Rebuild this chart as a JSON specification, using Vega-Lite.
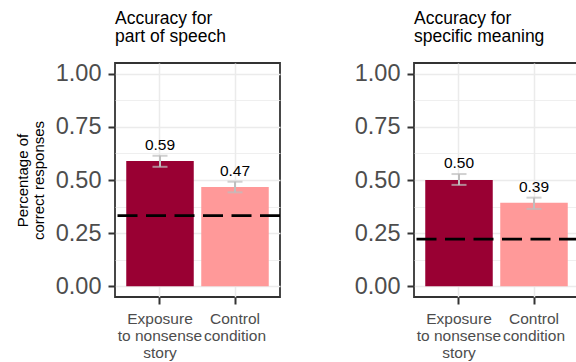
{
  "$schema": "https://vega.github.io/schema/vega-lite/v6.json",
  "background": "white",
  "padding": {"left": 14, "top": 8, "right": 5, "bottom": 5},
  "spacing": 70,
  "datasets": {
    "bars": [
      {"panel": "pos", "condition": "Exposure to nonsense story", "value": 0.589, "lower": 0.562, "upper": 0.614},
      {"panel": "pos", "condition": "Control condition", "value": 0.467, "lower": 0.442, "upper": 0.492},
      {"panel": "meaning", "condition": "Exposure to nonsense story", "value": 0.5, "lower": 0.477, "upper": 0.528},
      {"panel": "meaning", "condition": "Control condition", "value": 0.393, "lower": 0.364, "upper": 0.417}
    ],
    "chance": [
      {"panel": "pos", "chance": 0.333},
      {"panel": "meaning", "chance": 0.222}
    ]
  },
  "hconcat": [
    {
      "width": 165,
      "height": 234,
      "title": {"text": ["Accuracy for", "part of speech"]},
      "resolve": {"axis": {"y": "independent"}},
      "layer": [
        {
          "data": {"name": "bars"},
          "transform": [{"filter": "datum.panel == 'pos'"}],
          "mark": {"type": "bar"},
          "encoding": {
            "x": {"field": "condition", "type": "nominal", "sort": ["Exposure to nonsense story", "Control condition"],
                  "scale": {"paddingInner": 0.1, "paddingOuter": 0.15},
                  "axis": {"title": null, "labelExpr": "datum.label == 'Exposure to nonsense story' ? ['Exposure', 'to nonsense', 'story'] : ['Control', 'condition']"}},
            "y": {"field": "value", "type": "quantitative", "scale": {"domain": [-0.05, 1.05], "nice": false, "zero": false},
                  "axis": {"values": [0, 0.25, 0.5, 0.75, 1], "format": ".2f", "title": ["Percentage of", "correct responses"]}},
            "color": {"field": "condition", "type": "nominal", "scale": {"domain": ["Exposure to nonsense story", "Control condition"], "range": ["#990033", "#FF9999"]}, "legend": null}
          }
        },
        {
          "data": {"name": "bars"},
          "transform": [{"filter": "datum.panel == 'pos'"}],
          "mark": {"type": "rule", "color": "#BEBEBE", "strokeWidth": 2},
          "encoding": {
            "x": {"field": "condition", "type": "nominal", "sort": ["Exposure to nonsense story", "Control condition"]},
            "y": {"field": "lower", "type": "quantitative", "axis": null},
            "y2": {"field": "upper"}
          }
        },
        {
          "data": {"name": "bars"},
          "transform": [{"filter": "datum.panel == 'pos'"}],
          "mark": {"type": "tick", "color": "#BEBEBE", "thickness": 2, "size": 15},
          "encoding": {
            "x": {"field": "condition", "type": "nominal", "sort": ["Exposure to nonsense story", "Control condition"]},
            "y": {"field": "lower", "type": "quantitative", "axis": null}
          }
        },
        {
          "data": {"name": "bars"},
          "transform": [{"filter": "datum.panel == 'pos'"}],
          "mark": {"type": "tick", "color": "#BEBEBE", "thickness": 2, "size": 15},
          "encoding": {
            "x": {"field": "condition", "type": "nominal", "sort": ["Exposure to nonsense story", "Control condition"]},
            "y": {"field": "upper", "type": "quantitative",
                  "axis": {"orient": "right", "values": [0.125, 0.375, 0.625, 0.875], "grid": true, "gridWidth": 0.8, "labels": false, "ticks": false, "domain": false, "title": null}}
          }
        },
        {
          "data": {"name": "bars"},
          "transform": [{"filter": "datum.panel == 'pos'"}],
          "mark": {"type": "text", "baseline": "bottom", "dy": -3, "fontSize": 15.5, "color": "black"},
          "encoding": {
            "x": {"field": "condition", "type": "nominal", "sort": ["Exposure to nonsense story", "Control condition"]},
            "y": {"field": "upper", "type": "quantitative", "axis": null},
            "text": {"field": "value", "type": "quantitative", "format": ".2f"}
          }
        },
        {
          "data": {"name": "chance"},
          "transform": [{"filter": "datum.panel == 'pos'"}],
          "mark": {"type": "rule", "color": "black", "strokeWidth": 2.8, "strokeDash": [20, 8.5]},
          "encoding": {
            "y": {"field": "chance", "type": "quantitative", "axis": null}
          }
        }
      ]
    },
    {
      "width": 165,
      "height": 234,
      "title": {"text": ["Accuracy for", "specific meaning"]},
      "resolve": {"axis": {"y": "independent"}},
      "layer": [
        {
          "data": {"name": "bars"},
          "transform": [{"filter": "datum.panel == 'meaning'"}],
          "mark": {"type": "bar"},
          "encoding": {
            "x": {"field": "condition", "type": "nominal", "sort": ["Exposure to nonsense story", "Control condition"],
                  "scale": {"paddingInner": 0.1, "paddingOuter": 0.15},
                  "axis": {"title": null, "labelExpr": "datum.label == 'Exposure to nonsense story' ? ['Exposure', 'to nonsense', 'story'] : ['Control', 'condition']"}},
            "y": {"field": "value", "type": "quantitative", "scale": {"domain": [-0.05, 1.05], "nice": false, "zero": false},
                  "axis": {"values": [0, 0.25, 0.5, 0.75, 1], "format": ".2f", "title": null}},
            "color": {"field": "condition", "type": "nominal", "scale": {"domain": ["Exposure to nonsense story", "Control condition"], "range": ["#990033", "#FF9999"]}, "legend": null}
          }
        },
        {
          "data": {"name": "bars"},
          "transform": [{"filter": "datum.panel == 'meaning'"}],
          "mark": {"type": "rule", "color": "#BEBEBE", "strokeWidth": 2},
          "encoding": {
            "x": {"field": "condition", "type": "nominal", "sort": ["Exposure to nonsense story", "Control condition"]},
            "y": {"field": "lower", "type": "quantitative", "axis": null},
            "y2": {"field": "upper"}
          }
        },
        {
          "data": {"name": "bars"},
          "transform": [{"filter": "datum.panel == 'meaning'"}],
          "mark": {"type": "tick", "color": "#BEBEBE", "thickness": 2, "size": 15},
          "encoding": {
            "x": {"field": "condition", "type": "nominal", "sort": ["Exposure to nonsense story", "Control condition"]},
            "y": {"field": "lower", "type": "quantitative", "axis": null}
          }
        },
        {
          "data": {"name": "bars"},
          "transform": [{"filter": "datum.panel == 'meaning'"}],
          "mark": {"type": "tick", "color": "#BEBEBE", "thickness": 2, "size": 15},
          "encoding": {
            "x": {"field": "condition", "type": "nominal", "sort": ["Exposure to nonsense story", "Control condition"]},
            "y": {"field": "upper", "type": "quantitative",
                  "axis": {"orient": "right", "values": [0.125, 0.375, 0.625, 0.875], "grid": true, "gridWidth": 0.8, "labels": false, "ticks": false, "domain": false, "title": null}}
          }
        },
        {
          "data": {"name": "bars"},
          "transform": [{"filter": "datum.panel == 'meaning'"}],
          "mark": {"type": "text", "baseline": "bottom", "dy": -3, "fontSize": 15.5, "color": "black"},
          "encoding": {
            "x": {"field": "condition", "type": "nominal", "sort": ["Exposure to nonsense story", "Control condition"]},
            "y": {"field": "upper", "type": "quantitative", "axis": null},
            "text": {"field": "value", "type": "quantitative", "format": ".2f"}
          }
        },
        {
          "data": {"name": "chance"},
          "transform": [{"filter": "datum.panel == 'meaning'"}],
          "mark": {"type": "rule", "color": "black", "strokeWidth": 2.8, "strokeDash": [20, 8.5]},
          "encoding": {
            "y": {"field": "chance", "type": "quantitative", "axis": null}
          }
        }
      ]
    }
  ],
  "config": {
    "font": "Liberation Sans",
    "view": {"stroke": "#333333", "strokeWidth": 1.8},
    "title": {"anchor": "start", "frame": "group", "fontSize": 17.5, "fontWeight": "normal", "color": "black", "lineHeight": 18.5, "offset": 16},
    "axis": {
      "grid": true, "gridColor": "#EBEBEB", "gridWidth": 1.5,
      "domain": false,
      "tickColor": "#333333", "tickWidth": 2, "tickSize": 7,
      "labelColor": "#4D4D4D",
      "titleColor": "black", "titleFontWeight": "normal"
    },
    "axisX": {"labelAngle": 0, "labelFontSize": 15.5, "labelLineHeight": 17, "labelPadding": 7, "bandPosition": 0.5},
    "axisY": {"labelFontSize": 23.5, "labelPadding": 7, "titleFontSize": 15, "titleLineHeight": 16, "titlePadding": 9}
  }
}
